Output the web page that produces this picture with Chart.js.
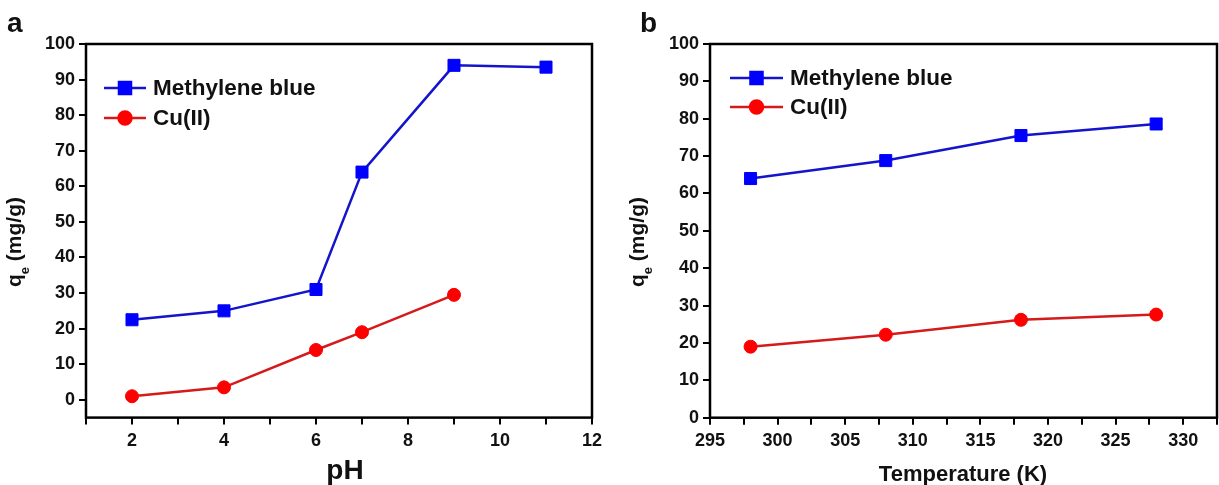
<!DOCTYPE html>
<html>
<head>
<meta charset="utf-8">
<script src="https://cdn.jsdelivr.net/npm/chart.js@4.4.1/dist/chart.umd.min.js"></script>
<style>
  html, body { margin: 0; padding: 0; background: #fff; }
  #wrap { position: relative; width: 1219px; height: 485px; }
  .panel { position: absolute; top: 0; height: 485px; }
</style>
</head>
<body>
<div id="wrap">
  <div class="panel" style="left:0;width:605px"><canvas id="phChart" width="605" height="485"></canvas></div>
  <div class="panel" style="left:605px;width:614px"><canvas id="tempChart" width="614" height="485"></canvas></div>
</div>
<script>
// data
const seriesNames = ['Methylene blue', 'Cu(II)'];

const phMBx = [2, 4, 6, 7, 9, 11];
const phMBy = [22.5, 25, 31, 64, 94, 93.5];
const phCux = [2, 4, 6, 7, 9];
const phCuy = [1, 3.5, 14, 19, 29.5];

const tempX = [298, 308, 318, 328];
const tempMBy = [64, 68.8, 75.5, 78.6];
const tempCuy = [19, 22.2, 26.2, 27.6];

const phTicks = [1, 2, 3, 4, 5, 6, 7, 8, 9, 10, 11, 12];
const phLabels = [2, 4, 6, 8, 10, 12];
const tempTicks = [295, 297.5, 300, 302.5, 305, 307.5, 310, 312.5, 315, 317.5, 320, 322.5, 325, 327.5, 330, 332.5];
const tempLabels = [295, 300, 305, 310, 315, 320, 325, 330];
const qTicks = [0, 10, 20, 30, 40, 50, 60, 70, 80, 90, 100];

const FONT = '"Liberation Sans", Arial, Helvetica, sans-serif';
const blueLine = '#1414cc', blueMark = '#0000ff';
const redLine = '#d41a1a', redMark = '#ff0000';

function pts(xs, ys) {
  return xs.map((x, i) => ({ x: x, y: ys[i] }));
}

// frame, axis titles, panel letter, legend
const decor = {
  id: 'decor',
  afterDraw(chart, args, o) {
    const ctx = chart.ctx;
    const a = chart.chartArea;
    ctx.save();
    ctx.strokeStyle = '#000';
    ctx.lineWidth = 2.5;
    ctx.strokeRect(a.left, a.top, a.right - a.left, a.bottom - a.top);

    ctx.fillStyle = '#111';
    // panel letter
    ctx.font = 'bold 28px ' + FONT;
    ctx.textAlign = 'left';
    ctx.textBaseline = 'alphabetic';
    ctx.fillText(o.letter, o.letterX, 32);

    // x title
    ctx.font = 'bold ' + o.xTitleSize + 'px ' + FONT;
    ctx.textAlign = 'center';
    ctx.fillText(o.xTitle, o.xTitleX, o.xTitleY);

    // y title with subscript
    ctx.translate(o.yTitleX, o.yTitleY);
    ctx.rotate(-Math.PI / 2);
    ctx.textAlign = 'left';
    const big = 'bold 21px ' + FONT, small = 'bold 13px ' + FONT;
    ctx.font = big;
    const wq = ctx.measureText('q').width;
    const wr = ctx.measureText(' (mg/g)').width;
    ctx.font = small;
    const we = ctx.measureText('e').width;
    let x = -(wq + we + wr) / 2;
    ctx.font = big;
    ctx.fillText('q', x, 0);
    x += wq;
    ctx.font = small;
    ctx.fillText('e', x, 8);
    x += we;
    ctx.font = big;
    ctx.fillText(' (mg/g)', x, 0);
    ctx.restore();

    // legend
    ctx.save();
    chart.data.datasets.forEach((ds, i) => {
      const y = o.legendRows[i];
      ctx.strokeStyle = ds.borderColor;
      ctx.lineWidth = 2.5;
      ctx.beginPath();
      ctx.moveTo(o.legendLine[0], y);
      ctx.lineTo(o.legendLine[1], y);
      ctx.stroke();
      ctx.fillStyle = ds.pointBackgroundColor;
      ctx.strokeStyle = ds.pointBorderColor;
      Chart.helpers.drawPoint(ctx, {
        pointStyle: ds.pointStyle, radius: ds.pointRadius, borderWidth: 1, rotation: 0
      }, (o.legendLine[0] + o.legendLine[1]) / 2, y);
      ctx.fillStyle = '#111';
      ctx.font = 'bold 22.5px ' + FONT;
      ctx.textAlign = 'left';
      ctx.textBaseline = 'middle';
      ctx.fillText(ds.label, o.legendText, y + 1);
    });
    ctx.restore();
  }
};

function seriesStyle(kind) {
  if (kind === 'blue') {
    return { borderColor: blueLine, pointBackgroundColor: blueMark, pointBorderColor: blueMark,
      pointStyle: 'rect', pointRadius: 8.5 };
  }
  return { borderColor: redLine, pointBackgroundColor: redMark, pointBorderColor: redMark,
    pointStyle: 'circle', pointRadius: 6.5 };
}

function makeChart(id, cfg) {
  const tickFont = { family: FONT, size: 18, weight: 'bold' };
  const grid = { display: true, drawOnChartArea: false, drawTicks: true, tickLength: 7,
    color: '#000', lineWidth: 2 };
  return new Chart(document.getElementById(id), {
    type: 'line',
    data: {
      datasets: cfg.series.map((s, i) => Object.assign({
        label: seriesNames[i],
        data: s,
        borderWidth: 2.5,
        pointBorderWidth: 1,
        tension: 0,
        fill: false
      }, seriesStyle(i === 0 ? 'blue' : 'red')))
    },
    options: {
      responsive: false,
      animation: false,
      events: [],
      layout: { autoPadding: false, padding: { left: 0, top: 44, right: cfg.padRight, bottom: 0 } },
      plugins: {
        legend: { display: false },
        tooltip: { enabled: false },
        decor: cfg.decor
      },
      scales: {
        x: {
          type: 'linear',
          min: cfg.xMin, max: cfg.xMax,
          afterBuildTicks: sc => { sc.ticks = cfg.xTicks.map(v => ({ value: v })); },
          afterFit: sc => {
            sc.height = 485 - cfg.bottom;
            sc.paddingLeft = 0;
            sc.paddingRight = 0;
          },
          ticks: {
            autoSkip: false, maxRotation: 0, padding: 6, color: '#111', font: tickFont,
            callback: v => (cfg.xLabels.includes(v) ? String(v) : '')
          },
          grid: grid,
          border: { display: false }
        },
        y: {
          type: 'linear',
          min: cfg.yMin, max: 100,
          afterBuildTicks: sc => { sc.ticks = qTicks.map(v => ({ value: v })); },
          afterFit: sc => { sc.width = cfg.left; },
          ticks: { padding: 4, color: '#111', font: tickFont },
          grid: grid,
          border: { display: false }
        }
      }
    },
    plugins: [decor]
  });
}

makeChart('phChart', {
  series: [pts(phMBx, phMBy), pts(phCux, phCuy)],
  xMin: 1, xMax: 12, xTicks: phTicks, xLabels: phLabels,
  yMin: -5, left: 86, bottom: 417.6, padRight: 13,
  decor: {
    letter: 'a', letterX: 7,
    xTitle: 'pH', xTitleSize: 28, xTitleX: 345, xTitleY: 479,
    yTitleX: 21, yTitleY: 242,
    legendRows: [88, 118], legendLine: [104, 146], legendText: 153
  }
});

makeChart('tempChart', {
  series: [pts(tempX, tempMBy), pts(tempX, tempCuy)],
  xMin: 295, xMax: 332.5, xTicks: tempTicks, xLabels: tempLabels,
  yMin: 0, left: 105, bottom: 417.7, padRight: 2,
  decor: {
    letter: 'b', letterX: 35,
    xTitle: 'Temperature (K)', xTitleSize: 22, xTitleX: 358, xTitleY: 481,
    yTitleX: 39, yTitleY: 242,
    legendRows: [78, 107], legendLine: [125, 178], legendText: 185
  }
});
</script>
</body>
</html>
